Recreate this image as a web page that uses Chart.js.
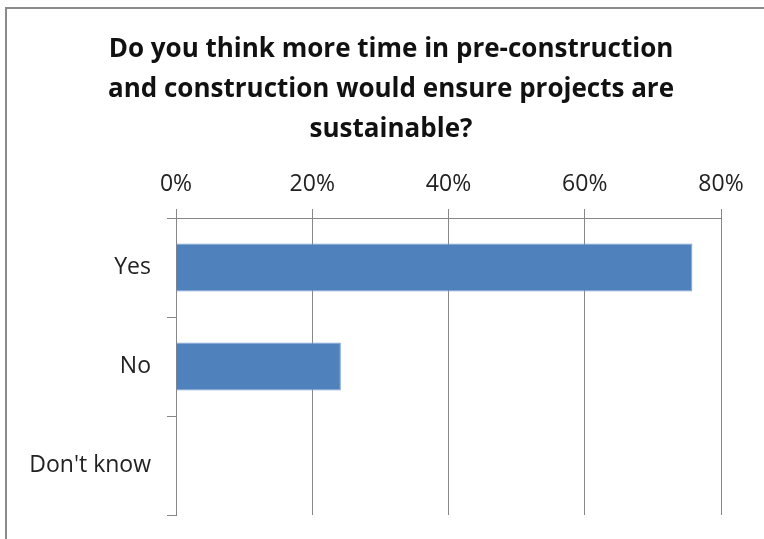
<!DOCTYPE html>
<html>
<head>
<meta charset="utf-8">
<style>
  html, body { margin: 0; padding: 0; background: #ffffff; overflow: hidden; }
  #wrap { position: relative; width: 764px; height: 539px; }
</style>
<script src="https://cdn.jsdelivr.net/npm/chart.js@4"></script>
</head>
<body>
<div id="wrap"><canvas id="chart" width="764" height="539"></canvas></div>
<script>
// Survey answers and share of respondents (%)
const categories = ["Yes", "No", "Don't know"];
const shares = [75.8, 24.2, 0];
const axisMax = 80;
const axisStep = 20;
const titleLines = [
  "Do you think more time in pre-construction",
  "and construction would ensure projects are",
  "sustainable?"
];

const FONT = "'Open Sans', 'Noto Sans', sans-serif";
const GRID = "#878787";

// Grey frame along the left and top edges of the chart box
const framePlugin = {
  id: "frame",
  beforeDraw(chart) {
    const ctx = chart.ctx;
    ctx.save();
    ctx.strokeStyle = "#8a8a8a";
    ctx.lineWidth = 2;
    ctx.beginPath();
    ctx.moveTo(6, chart.height);
    ctx.lineTo(6, 8);
    ctx.lineTo(chart.width, 8);
    ctx.stroke();
    ctx.restore();
  }
};

new Chart(document.getElementById("chart"), {
  type: "bar",
  data: {
    labels: categories,
    datasets: [{
      data: shares,
      backgroundColor: "#4f81bd",
      borderColor: "#7ea3cf",
      borderWidth: 1,
      categoryPercentage: 1,
      barPercentage: 0.485
    }]
  },
  options: {
    indexAxis: "y",
    responsive: false,
    animation: false,
    layout: { padding: { left: 20, right: 2, top: 0, bottom: 24 } },
    plugins: {
      legend: { display: false },
      tooltip: { enabled: false },
      title: {
        display: true,
        text: titleLines,
        color: "#111111",
        font: { family: FONT, size: 26, weight: "bold", lineHeight: 40 / 26 },
        padding: { top: 30, bottom: 0 }
      }
    },
    scales: {
      x: {
        position: "top",
        min: 0,
        max: axisMax,
        afterFit(axis) { axis.height = 68; },
        ticks: {
          stepSize: axisStep,
          padding: 11,
          color: "#222222",
          font: { family: FONT, size: 23 },
          callback: v => v + "%"
        },
        grid: { color: GRID, lineWidth: 1, tickLength: 9, drawTicks: true },
        border: { display: true, color: GRID, width: 1 }
      },
      y: {
        afterFit(axis) {
          axis.width = 156;
          // category bands run the full plot height; no extra room for label overhang
          axis.paddingTop = 0;
          axis.paddingBottom = 0;
        },
        ticks: {
          padding: 16,
          color: "#222222",
          font: { family: FONT, size: 23 }
        },
        grid: { drawOnChartArea: false, drawTicks: true, tickLength: 9, color: GRID, offset: true },
        border: { display: true, color: GRID, width: 1 }
      },
      // empty margin on the right, keeps room for the last percentage label
      margin: {
        type: "linear",
        axis: "y",
        position: "right",
        afterFit(axis) { axis.width = 41; },
        ticks: { display: false },
        grid: { display: false },
        border: { display: false }
      }
    }
  },
  plugins: [framePlugin]
});
</script>
</body>
</html>
